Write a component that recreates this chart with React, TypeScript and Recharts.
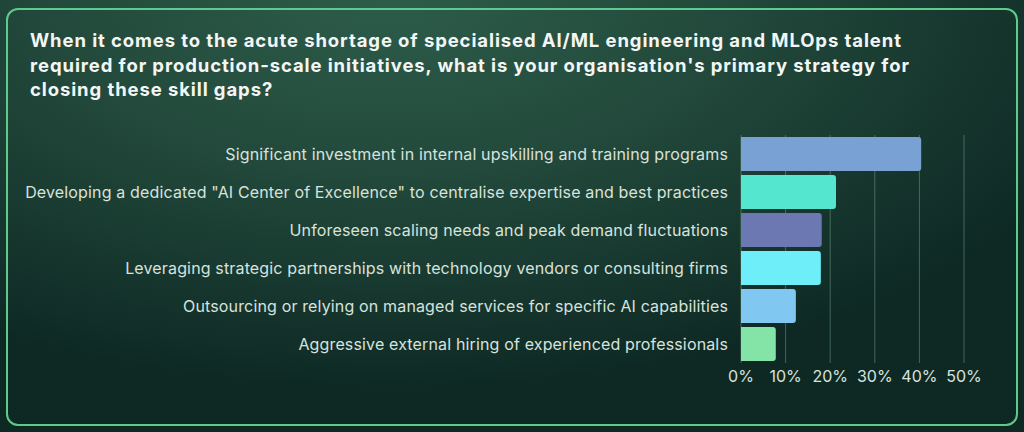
import { BarChart, Bar, XAxis, YAxis, CartesianGrid, Cell } from "recharts"

const strategies = [
  "Significant investment in internal upskilling and training programs",
  'Developing a dedicated "AI Center of Excellence" to centralise expertise and best practices',
  "Unforeseen scaling needs and peak demand fluctuations",
  "Leveraging strategic partnerships with technology vendors or consulting firms",
  "Outsourcing or relying on managed services for specific AI capabilities",
  "Aggressive external hiring of experienced professionals",
]

const shares = [40.4, 21.3, 18.1, 17.9, 12.3, 7.8]

const barColors = ["#79a1d4", "#55e6d0", "#6c78b2", "#6eeef9", "#80c8f2", "#84e3a6"]

const xTicks = [0, 10, 20, 30, 40, 50]

const titleLines = [
  "When it comes to the acute shortage of specialised AI/ML engineering and MLOps talent",
  "required for production-scale initiatives, what is your organisation's primary strategy for",
  "closing these skill gaps?",
]

const data = strategies.map((name, i) => ({ name, value: shares[i] }))

export default function App() {
  return (
    <div
      style={{
        position: "absolute",
        left: 0,
        top: 0,
        width: 1024,
        height: 432,
        overflow: "hidden",
        background:
          "radial-gradient(ellipse 75% 90% at 38% 0%, #2d5c4a 0%, #22493b 45%, #0e2924 100%)",
        fontFamily: "Inter, sans-serif",
      }}
    >
      <div
        style={{
          position: "absolute",
          left: 6,
          top: 8,
          width: 1008,
          height: 414,
          border: "2px solid #5ecb8c",
          borderRadius: 12,
        }}
      />
      <div
        style={{
          position: "absolute",
          left: 30,
          top: 28,
          color: "#f3f6f4",
          fontWeight: 700,
          fontSize: 18.5,
          letterSpacing: 0.9,
          lineHeight: "24.5px",
          whiteSpace: "nowrap",
        }}
      >
        {titleLines.map((line) => (
          <div key={line}>{line}</div>
        ))}
      </div>
      <div style={{ position: "absolute", left: 0, top: 0 }}>
        <BarChart
          width={1024}
          height={432}
          data={data}
          layout="vertical"
          barCategoryGap="5%"
          margin={{ top: 135, right: 60, bottom: 39, left: 0 }}
        >
          <CartesianGrid horizontal={false} stroke="rgba(150,200,175,0.38)" />
          <XAxis
            type="number"
            domain={[0, 50]}
            ticks={xTicks}
            tickFormatter={(v) => `${v}%`}
            axisLine={false}
            tickLine={false}
            height={30}
            tick={{ fill: "#d8e2de", fontSize: 16 }}
          />
          <YAxis
            type="category"
            dataKey="name"
            width={741}
            axisLine={false}
            tickLine={false}
            tickMargin={7}
            interval={0}
            tick={{ fill: "#d8e2de", fontSize: 16, letterSpacing: 0.15 }}
          />
          <Bar dataKey="value" radius={[0, 3, 3, 0]} isAnimationActive={false}>
            {data.map((d, i) => (
              <Cell key={d.name} fill={barColors[i]} />
            ))}
          </Bar>
        </BarChart>
      </div>
    </div>
  )
}
